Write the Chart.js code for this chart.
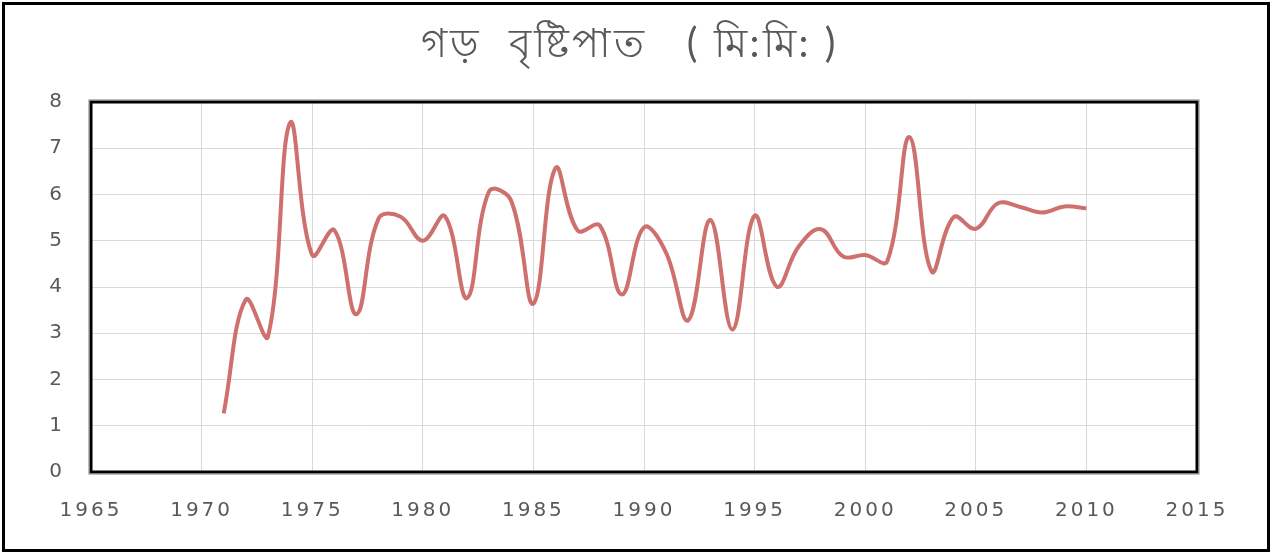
<!DOCTYPE html>
<html>
<head>
<meta charset="utf-8">
<script src="https://cdn.jsdelivr.net/npm/chart.js@4"></script>
<style>
    html, body { margin: 0; padding: 0; background: #fff; }
    #wrap { position: relative; width: 1274px; height: 556px; }
    #frame { position: absolute; left: 2px; top: 2px; width: 1262px; height: 544px; border: 3px solid #000; pointer-events: none; }
</style>
</head>
<body>
<div id="wrap">
    <canvas id="myChart" width="1274" height="556"></canvas>
    <div id="frame"></div>
</div>
<script>
const years = [1971, 1972, 1973, 1974, 1975, 1976, 1977, 1978, 1979, 1980,
    1981, 1982, 1983, 1984, 1985, 1986, 1987, 1988, 1989, 1990,
    1991, 1992, 1993, 1994, 1995, 1996, 1997, 1998, 1999, 2000,
    2001, 2002, 2003, 2004, 2005, 2006, 2007, 2008, 2009, 2010];
const rainfall = [1.27, 3.73, 2.93, 7.55, 4.69, 5.23, 3.41, 5.48, 5.52, 5.00,
    5.53, 3.76, 6.07, 5.86, 3.64, 6.57, 5.22, 5.33, 3.84, 5.29,
    4.74, 3.28, 5.45, 3.08, 5.54, 4.01, 4.88, 5.25, 4.66, 4.69,
    4.56, 7.24, 4.34, 5.51, 5.26, 5.81, 5.73, 5.61, 5.74, 5.70];
const xTicks = [1965, 1970, 1975, 1980, 1985, 1990, 1995, 2000, 2005, 2010, 2015];
const yTicks = [0, 1, 2, 3, 4, 5, 6, 7, 8];
const title = "গড়  বৃষ্টিপাত   ( মি:মি: )";

const points = years.map((y, i) => ({ x: y, y: rainfall[i] }));

// thick frame round the plot area
const plotFrame = {
    id: 'plotFrame',
    afterLayout(chart)
    {
        // centre the title on the whole picture, not on the padded box
        if (chart.titleBlock)
        {
            chart.titleBlock.left = 0;
            chart.titleBlock.right = 1260;
        }
    },
    afterDraw(chart)
    {
        const a = chart.chartArea;
        const ctx = chart.ctx;
        ctx.save();
        ctx.strokeStyle = '#000';
        ctx.lineWidth = 3;
        ctx.strokeRect(a.left, a.top, a.right - a.left, a.bottom - a.top);
        ctx.strokeStyle = '#7f7f7f';
        ctx.lineWidth = 1;
        ctx.strokeRect(a.left - 2, a.top - 2, a.right - a.left + 4, a.bottom - a.top + 4);
        ctx.restore();
    }
};

const spacing = {
    id: 'spacing',
    beforeDraw(chart)
    {
        chart.ctx.letterSpacing = '3px';
    }
};

let chart = new Chart(document.getElementById("myChart"), {
    type: 'line',
    data: {
        datasets: [{
            label: 'rain',
            data: points,
            borderColor: 'rgb(206, 112, 110)',
            borderWidth: 4,
            pointRadius: 0,
            tension: 0.4,
            fill: false
        }]
    },
    plugins: [plotFrame, spacing],
    options: {
        responsive: false,
        animation: false,
        layout: {
            padding: { left: 10, right: 77, top: 0, bottom: 0 }
        },
        plugins: {
            legend: { display: false },
            tooltip: { enabled: false },
            title: {
                display: true,
                text: title,
                color: '#595959',
                font: { family: 'Lato, "Noto Sans", sans-serif', size: 40, weight: 'normal' },
                padding: { top: 20, bottom: 34 }
            }
        },
        scales: {
            x: {
                type: 'linear',
                min: 1965,
                max: 2015,
                afterBuildTicks: s => { s.ticks = xTicks.map(v => ({ value: v })); },
                afterFit: s => { s.height = 84; },
                grid: { color: '#d9d9d9', lineWidth: 1, drawTicks: false },
                border: { display: false },
                ticks: {
                    padding: 27,
                    color: '#595959',
                    maxRotation: 0,
                    font: { family: '"DejaVu Sans"', size: 20 },
                    callback: v => String(v)
                }
            },
            y: {
                min: 0,
                max: 8,
                afterBuildTicks: s => { s.ticks = yTicks.map(v => ({ value: v })); },
                afterFit: s => { s.width = 81; },
                grid: { color: '#d9d9d9', lineWidth: 1, drawTicks: false },
                border: { display: false },
                ticks: {
                    padding: 26,
                    color: '#595959',
                    font: { family: '"DejaVu Sans"', size: 20 }
                }
            }
        }
    }
});
</script>
</body>
</html>
